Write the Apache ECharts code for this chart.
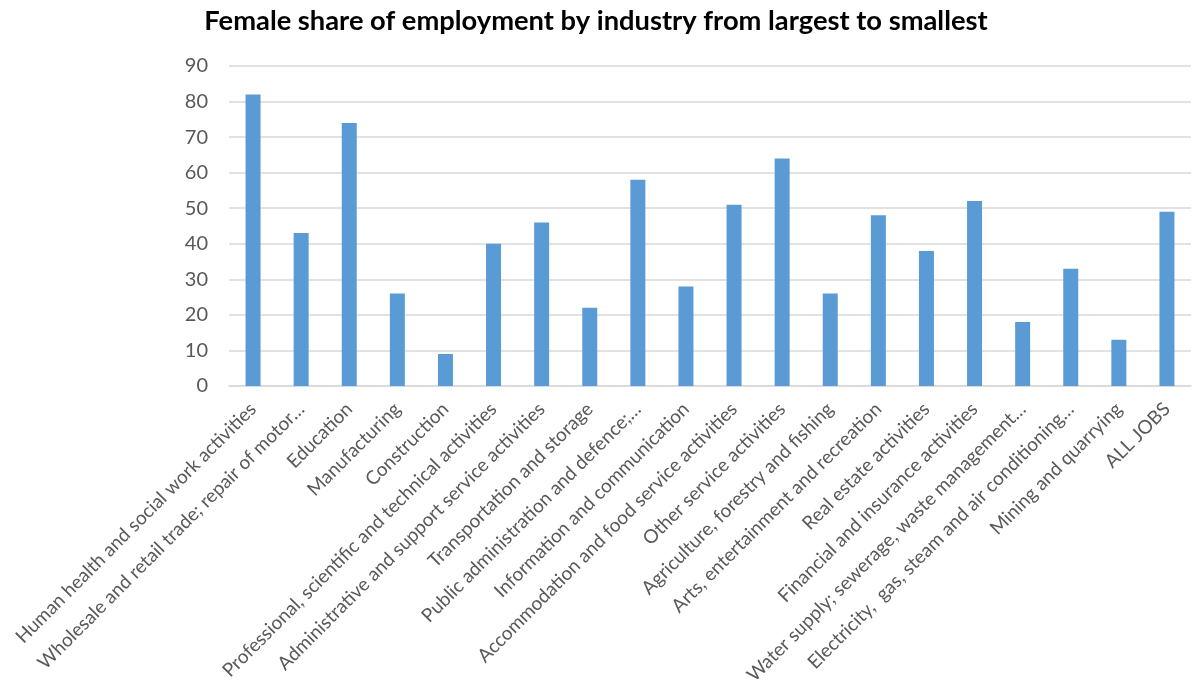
<!DOCTYPE html>
<html>
<head>
<meta charset="utf-8">
<script src="https://cdn.jsdelivr.net/npm/echarts@6/dist/echarts.min.js"></script>
<style>
html, body { margin: 0; padding: 0; background: #ffffff; }
#chart { width: 1192px; height: 695px; }
</style>
</head>
<body>
<div id="chart"></div>
<script>
const industries = [
    'Human health and social work activities',
    'Wholesale and retail trade; repair of motor\u2026',
    'Education',
    'Manufacturing',
    'Construction',
    'Professional, scientific and technical activities',
    'Administrative and support service activities',
    'Transportation and storage',
    'Public administration and defence;\u2026',
    'Information and communication',
    'Accommodation and food service activities',
    'Other service activities',
    'Agriculture, forestry and fishing',
    'Arts, entertainment and recreation',
    'Real estate activities',
    'Financial and insurance activities',
    'Water supply; sewerage, waste management\u2026',
    'Electricity,  gas, steam and air conditioning\u2026',
    'Mining and quarrying',
    'ALL JOBS'
];
const femaleShare = [82, 43, 74, 26, 9, 40, 46, 22, 58, 28, 51, 64, 26, 48, 38, 52, 18, 33, 13, 49];
const yTicks = [0, 90, 10];

const font = 'Lato, "Open Sans", sans-serif';

const option = {
    animation: false,
    title: {
        text: 'Female share of employment by industry from largest to smallest',
        left: 'center',
        top: 3,
        textStyle: {
            fontFamily: font,
            fontSize: 27.3,
            fontWeight: 'bold',
            color: '#000000'
        }
    },
    grid: {
        top: 66,
        left: 229,
        right: 1,
        bottom: 309
    },
    xAxis: {
        type: 'category',
        data: industries,
        axisLine: { show: true, lineStyle: { color: '#d9d9d9', width: 1.5 } },
        axisTick: { show: false },
        axisLabel: {
            rotate: 45,
            interval: 0,
            fontFamily: font,
            fontSize: 19,
            color: '#595959',
            margin: 20
        }
    },
    yAxis: {
        type: 'value',
        min: yTicks[0],
        max: yTicks[1],
        interval: yTicks[2],
        axisLine: { show: false },
        axisTick: { show: false },
        splitLine: { lineStyle: { color: '#d9d9d9', width: 1.5 } },
        axisLabel: {
            fontFamily: font,
            fontSize: 20,
            color: '#595959',
            margin: 21
        }
    },
    series: [{
        type: 'bar',
        data: femaleShare,
        barWidth: 15,
        itemStyle: { color: '#5b9bd5' }
    }]
};

echarts.init(document.getElementById('chart')).setOption(option);
</script>
</body>
</html>
